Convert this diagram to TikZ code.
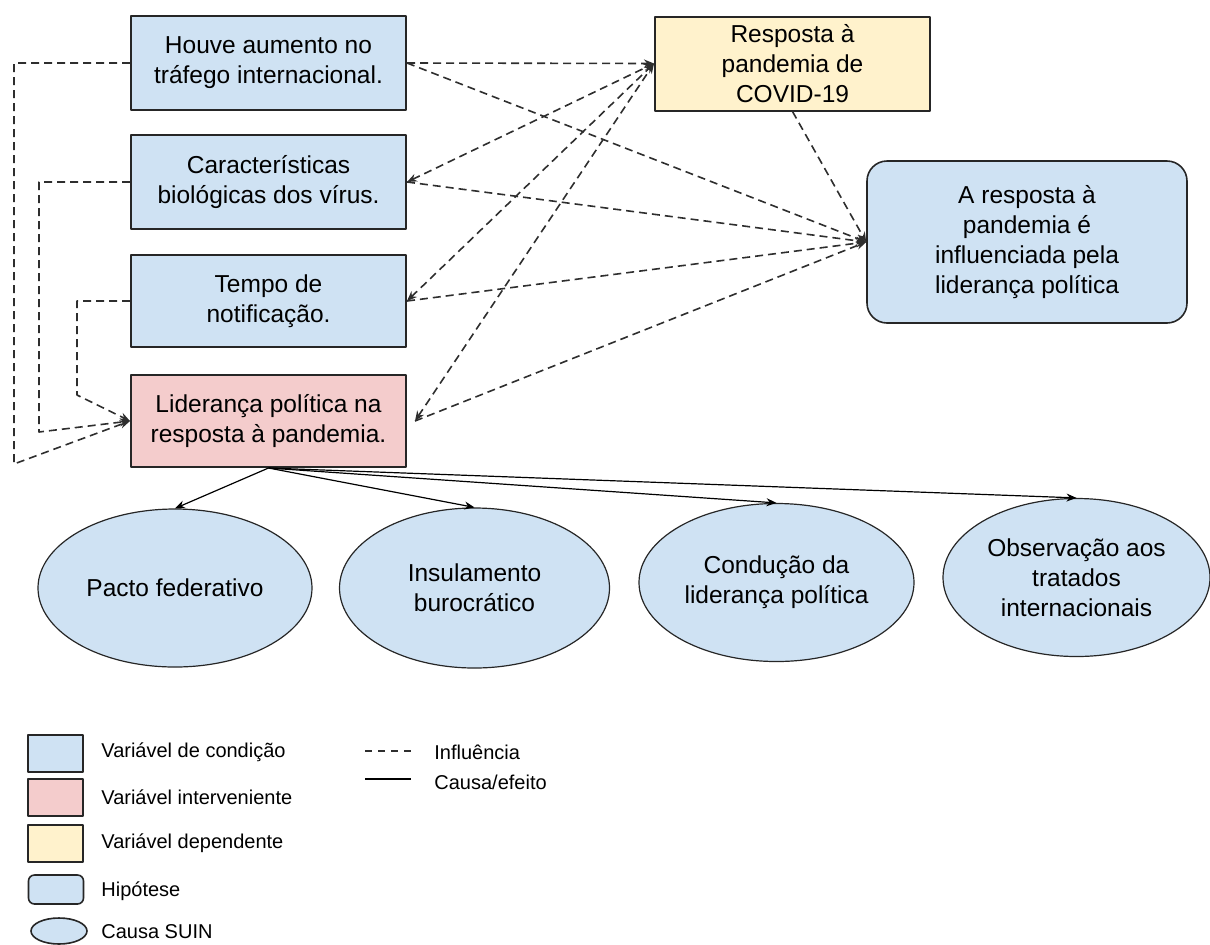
\documentclass[tikz,border=0pt]{standalone}
\usepackage{fontspec}
\setmainfont{Liberation Sans}
\usetikzlibrary{arrows.meta,shapes.geometric}
\definecolor{condblue}{HTML}{CFE2F3}
\definecolor{intred}{HTML}{F4CCCC}
\definecolor{depyellow}{HTML}{FFF2CC}
\begin{document}
\begin{tikzpicture}[x=0.5pt, y=-0.5pt, line join=round, >={Stealth[length=5pt,width=4pt]},
    font=\fontsize{12.25}{15}\selectfont,
    var/.style={draw=black!85, line width=1pt, minimum width=137.5pt, minimum height=47pt, align=center, inner sep=1pt},
    cond/.style={var, fill=condblue},
    hyp/.style={draw=black!85, line width=0.8pt, fill=condblue, rounded corners=10pt, align=center},
    suin/.style={ellipse, draw=black!85, line width=0.6pt, fill=condblue, inner sep=0pt, minimum width=137pt, minimum height=79pt, align=center},
    infl/.style={draw=black!82, line width=0.8pt, dash pattern=on 4pt off 2.5pt},
    causa/.style={draw=black, line width=0.6pt},
    key/.style={draw=black!85, line width=0.8pt, minimum width=27.5pt, minimum height=18.5pt, inner sep=0pt},
    leg/.style={font=\fontsize{10}{12}\selectfont, anchor=west, inner sep=0pt}]
                \useasboundingbox (0,0) rectangle (1210,944);
                \node[cond] (traf) at (268.5,63) {Houve aumento no\\tráfego internacional.};
                \node[cond] (bio) at (268.5,182) {Características\\biológicas dos vírus.};
                \node[cond, minimum height=46pt] (notif) at (268.5,301) {Tempo de\\notificação.};
                \node[var, fill=intred, minimum height=46pt] (lead) at (268.5,421) {Liderança política na\\resposta à pandemia.};
                \node[var, fill=depyellow] (resp) at (792.5,63.5) {Resposta à\\pandemia de\\COVID-19};
                \node[hyp, minimum width=160pt, minimum height=81pt] (hypo) at (1027,242) {A resposta à\\pandemia é\\influenciada pela\\liderança política};
                \node[suin] (fed) at (175,588) {Pacto federativo};
                \node[suin, minimum width=135pt, minimum height=80pt] (buro) at (474.5,588) {Insulamento\\burocrático};
                \node[suin, minimum width=137.5pt] (lidc) at (776.5,582.5) {Condução da\\liderança política};
                \node[suin, minimum width=133.5pt] (trat) at (1076.5,577.5) {Observação aos\\tratados\\internacionais};
                \draw[infl,->] (traf.west) -- ++(-116,0) -- ++(0,401) -- (lead.west);
                \draw[infl,->] (bio.west) -- ++(-91,0) -- ++(0,250) -- (lead.west);
                \draw[infl,->] (notif.west) -- ++(-53,0) -- ++(0,94) -- (lead.west);
                \draw[infl,->] (traf.east) -- (resp.west);
                \draw[infl,<->] (bio.east) -- (resp.west);
                \draw[infl,<->] (notif.east) -- (resp.west);
                \draw[infl,<->] ([xshift=4pt]lead.east) -- (resp.west);
                \draw[infl,->] (traf.east) -- (hypo.west);
                \draw[infl,->] (bio.east) -- (hypo.west);
                \draw[infl,->] (notif.east) -- (hypo.west);
                \draw[infl,->] ([xshift=4pt]lead.east) -- (hypo.west);
                \draw[infl,->] (resp.south) -- (hypo.west);
                \draw[causa,->] (lead.south) -- (fed.north);
                \draw[causa,->] (lead.south) -- (buro.north);
                \draw[causa,->] (lead.south) -- (lidc.north);
                \draw[causa,->] (lead.south) -- (trat.north);
                \node[key, fill=condblue] (kcond) at (55.5,753.5) {};
                \node[leg] (tcond) at (101,752) {Variável de condição};
                \node[key, fill=intred] (kint) at (55.5,797.5) {};
                \node[leg] (tint) at (101,797) {Variável interveniente};
                \node[key, fill=depyellow] (kdep) at (55.5,843.5) {};
                \node[leg] (tdep) at (101,843) {Variável dependente};
                \node[key, fill=condblue, rounded corners=3pt, minimum height=14.5pt] (khyp) at (56,889.5) {};
                \node[leg] (thyp) at (101,891) {Hipótese};
                \node[key, ellipse, fill=condblue, minimum width=28pt, minimum height=13pt] (ksuin) at (59,931) {};
                \node[leg] (tsuin) at (101,932) {Causa SUIN};
                \coordinate (d0) at (365,751);
                \coordinate (d1) at (411,751);
                \draw[infl, dash pattern=on 3.5pt off 3pt] (d0) -- (d1);
                \node[leg] (tinf) at (434,752) {Influência};
                \coordinate (c0) at (365,779);
                \coordinate (c1) at (411,779);
                \draw[causa] (c0) -- (c1);
                \node[leg] (tcau) at (434,782) {Causa/efeito};
            \end{tikzpicture}
\end{document}
